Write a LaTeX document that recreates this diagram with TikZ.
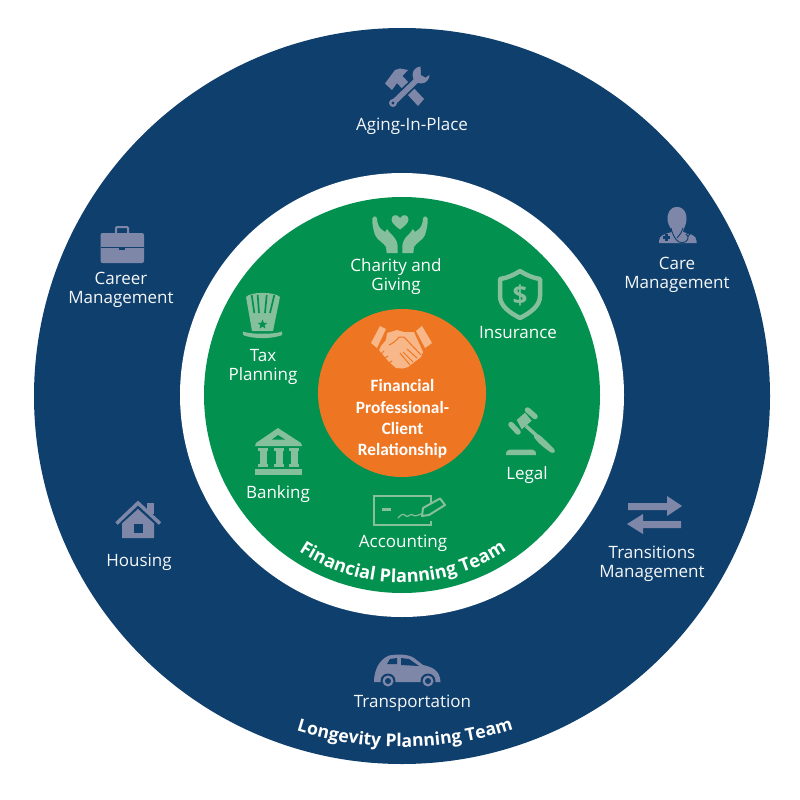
\documentclass[tikz,border=0pt]{standalone}
\usepackage{fontspec}
\setmainfont{Open Sans}
\newfontfamily\carlito{Carlito}
\usetikzlibrary{shapes.geometric,decorations.text}
\definecolor{navy}{HTML}{0F3F6C}
\definecolor{grn}{HTML}{03914F}
\definecolor{org}{HTML}{EE7623}
\definecolor{icnavy}{HTML}{7F87A8}
\definecolor{icgreen}{HTML}{85BF9B}
\definecolor{icorg}{HTML}{F8B788}
\tikzset{
  lbl/.style={text=white!96!navy,align=center,inner sep=0pt,font=\fontsize{17}{19.3}\selectfont},
  lblg/.style={text=white,align=center,inner sep=0pt,font=\fontsize{17}{19.3}\selectfont},
  nv/.style={fill=icnavy,draw=none},
  gr/.style={fill=icgreen,draw=none},
  orr/.style={fill=icorg,draw=none}
}
\begin{document}
\begin{tikzpicture}[x=1pt,y=-1pt]
\useasboundingbox (0,0) rectangle (800,800);
\fill[white] (0,0) rectangle (800,800);
\node[circle,fill=navy,minimum size=736pt,inner sep=0pt] (outer) at (402,396) {};
\node[circle,fill=white,minimum size=444pt,inner sep=0pt] (gap) at (402,395) {};
\node[circle,fill=grn,minimum size=396pt,inner sep=0pt] (green) at (402,395) {};
\node[circle,fill=org,minimum size=168pt,inner sep=0pt] (core) at (402,393) {};
% curved team names
\begin{scope}[x=1pt,y=1pt,shift={(402pt,-395pt)}]
\path[decorate,decoration={text along path,text align={center},
  text={|\fontsize{18.1}{20}\selectfont\bfseries\color{white}|Financial Planning Team}}]
  (200.3:187.5) arc[start angle=200.3,end angle=340.3,radius=187.5];
\path[decorate,decoration={text along path,text align={center},
  text={|\fontsize{17.6}{20}\selectfont\bfseries\color{white}|Longevity Planning Team}}]
  (230.5:352) arc[start angle=230.5,end angle=310.5,radius=352];
\end{scope}
% labels
\node[lbl] (aging) at (412,125.8) {Aging-In-Place};
\node[lbl] (care) at (677,274.8) {Care\\Management};
\node[lbl] (career) at (121,289.8) {Career\\Management};
\node[lbl] (housing) at (139,561.8) {Housing};
\node[lbl] (trans) at (652,563.8) {Transitions\\Management};
\node[lbl] (transp) at (412.5,702.8) {Transportation};
\node[lblg] (charity) at (396,276.8) {Charity and\\Giving};
\node[lblg] (insur) at (518,332.8) {Insurance};
\node[lblg] (tax) at (263,366.8) {Tax\\Planning};
\node[lblg] (legal) at (527,474.8) {Legal};
\node[lblg] (bank) at (278,494.3) {Banking};
\node[lblg] (acct) at (403,542.8) {Accounting};
\node[text=white,align=center,inner sep=0pt,font=\carlito\bfseries\fontsize{17.3}{21.3}\selectfont] (fin) at (402.5,419) {Financial\\Professional-\\Client\\Relationship};
% tools
\fill[nv] (385,83.5) -- (395,70) -- (400,68.5) -- (408,70) -- (402.5,76) -- (424,99) -- (418,106) -- (397,83) -- (392,90) -- cycle;
\draw[navy,line width=9pt] (394,102) -- (419,78);
\fill[navy] (391,105) circle[radius=5];
\draw[icnavy,line width=5.5pt] (393.5,102.5) -- (419,78);
\fill[icnavy] (393,103) circle[radius=4];
\fill[navy] (393,103) circle[radius=1.6];
\fill[icnavy] (421,75) circle[radius=8.5];
\fill[navy] (421,75) -- (420.5,65) -- (428,65) -- (432,73) -- (425.5,77.5) -- cycle;
% doctor
\fill[nv] (677,207) .. controls (684,207) and (687,213) .. (686.5,220) .. controls (686,226) and (683,229) .. (683,232)
  .. controls (690,234) and (696.5,235) .. (696.5,241) -- (696.5,243) -- (659,243) -- (659,241)
  .. controls (659,235) and (665,234) .. (672,232) .. controls (672,229) and (668,226) .. (667.5,220) .. controls (667,213) and (670,207) .. (677,207) -- cycle;
\draw[navy,line width=.9pt] (671,228) .. controls (672,233) and (675,240) .. (679,242) .. controls (684,244) and (689,241) .. (688,236);
\draw[navy,line width=.9pt] (683,228) -- (681,233) -- (677,238);
\fill[navy] (664.5,234) rectangle (667.5,241);
\fill[navy] (662.5,236) rectangle (669.5,239);
\draw[navy,line width=.8pt,fill=icnavy] (688,234.5) circle[radius=1.7];
% briefcase
\fill[nv,rounded corners=2pt] (100.5,233) rectangle (144,263);
\draw[icnavy,line width=2pt,rounded corners=1pt] (116,233) -- (116,227) -- (128,227) -- (128,233);
\fill[navy] (100.5,247) rectangle (144,248);
\fill[navy] (119,247) rectangle (125,250);
% heart hands
\fill[gr] (400,229.5) .. controls (395,226) and (391.5,222.5) .. (391.5,219.5) .. controls (391.5,214.5) and (397.5,213.5) .. (400,218) .. controls (402.5,213.5) and (408.5,214.5) .. (408.5,219.5) .. controls (408.5,222.5) and (405,226) .. (400,229.5) -- cycle;
\foreach \m in {-1,1}{
\begin{scope}[shift={({400-\m*400},0)},xscale=\m]
\fill[gr] (372.3,218.3) .. controls (374,215.5) and (376.5,216) .. (376.8,218) .. controls (377.5,223) and (378,226) .. (381,229)
  -- (385,232) -- (387,229) -- (390,233) -- (393,236) .. controls (396,239) and (397.7,243) .. (397.7,247) -- (397.7,253) -- (386.7,253) -- (386,247)
  .. controls (384,243) and (377,240) .. (375,235) .. controls (373,229) and (372,223) .. (372.3,218.3) -- cycle;
\end{scope}}
% shield
\draw[icgreen,line width=4.5pt,fill=none,line join=round] (520,271) .. controls (526,275) and (533,278) .. (540,279) -- (540,296) .. controls (540,306) and (530,313) .. (520,318) .. controls (510,313) and (500,306) .. (500,296) -- (500,279) .. controls (507,278) and (514,275) .. (520,271) -- cycle;
\node[text=icgreen,inner sep=0pt,font=\bfseries\fontsize{26}{28}\selectfont] (dollar) at (520,295) {\$};
% hat
\fill[gr] (246,297) .. controls (250,291.5) and (275,291.5) .. (280,297) -- (273,331) -- (252,331) -- cycle;
\foreach \a/\b in {251.7/254.3,257.7/259,266.7/265,274.3/270}{\draw[grn,line width=1.7pt] (\a,295) -- (\b,313);}
\node[star,star points=5,star point ratio=2.3,fill=grn,minimum size=10pt,inner sep=0pt] (hatstar) at (262.5,324.5) {};
\fill[gr] (243,331.5) .. controls (250,334.5) and (275,334.5) .. (282,331.5) .. controls (283,334) and (282,335) .. (281,335.5) .. controls (270,339) and (255,339) .. (244,335.5) .. controls (243,335) and (242,333) .. (243,331.5) -- cycle;
% handshake
\fill[orr] (371,343) -- (380,326) -- (386,329) -- (377,348) -- cycle;
\fill[orr] (416,331) -- (422,326) -- (432,343) -- (425,348) -- cycle;
\fill[orr] (387,333) -- (397,330) -- (404,332) -- (414,332) -- (423,352) -- (421,357) -- (408,367) -- (403,368.5) -- (396,368) -- (389,362) -- (379,350) -- (381,346) -- (386,340) -- cycle;
\draw[org,line width=1pt] (389,345) .. controls (392,344) and (397,340) .. (399,337) -- (404,337) -- (421,355);
\draw[org,line width=1pt] (400,353) -- (410,365);
\draw[org,line width=1pt] (403,352) -- (413,362);
\draw[org,line width=1pt] (407,349) -- (417,358);
\draw[org,line width=1pt] (384,351) -- (381,354);
\draw[org,line width=1pt] (388,356) -- (385,358);
\draw[org,line width=1pt] (392,361) -- (389,363);
% gavel
\draw[icgreen,line width=3.5pt] (526,426) -- (537,436);
\fill[gr] (534,434) .. controls (538,433) and (541,436) .. (545,440) -- (554,449) .. controls (556,452) and (554,453.5) .. (551,452.5) .. controls (544,448) and (537,442) .. (534,437) -- cycle;
\fill[gr] (516.7,420) -- (525,412.7) -- (531.7,420.7) -- (521.7,429.3) -- cycle;
\draw[icgreen,line width=5.5pt,line cap=round] (527.5,410) -- (535,416.5);
\draw[icgreen,line width=5.5pt,line cap=round] (511,424.5) -- (518,432);
\fill[gr] (506,455) .. controls (506,451.5) and (507,449.5) .. (510,449.5) -- (532,449.5) .. controls (535,449.5) and (536,451.5) .. (536,455) -- cycle;
% bank
\fill[gr] (255,446) -- (256,443) -- (278,428) -- (301,443) -- (302,446) -- cycle;
\fill[grn] (272,439.5) -- (278,435) -- (285,439.5) -- cycle;
\foreach \c in {263,279,294}{
  \fill[gr] ({\c-5},448) rectangle ({\c+5},451);
  \fill[gr] ({\c-3.5},451) rectangle ({\c+3.5},464);
  \fill[gr] ({\c-5},464) rectangle ({\c+5},467);
}
\fill[gr] (255,468.5) rectangle (302,475);
% house
\draw[icnavy,line width=3.5pt,fill=none] (116.5,523.5) -- (138,503) -- (160,523.5);
\fill[nv] (147,503) rectangle (154,514);
\fill[nv] (122,538) -- (122,523.5) -- (138,509) -- (154,523.5) -- (154,538) -- cycle;
\fill[navy] (133.5,523.5) rectangle (143,533);
% cheque
\draw[icgreen,line width=2pt,fill=none] (431,503) -- (431,496) -- (374,496) -- (374,525) -- (431,525) -- (431,521);
\fill[gr] (382,507.5) rectangle (391,511);
\draw[icgreen,line width=1.2pt,line cap=round] (398,518) .. controls (402,513) and (404,514) .. (406,516) .. controls (408,518) and (410,513) .. (413,515) .. controls (415,517) and (418,515) .. (421,514);
\draw[icgreen,line width=2pt,fill=grn,line join=round] (422,516) -- (423,508) -- (440,498.5) -- (445,505) -- (429,515) -- cycle;
% arrows
\fill[nv] (628,503) -- (667,503) -- (667,496) -- (682,506) -- (667,516) -- (667,510) -- (628,510) -- cycle;
\fill[nv] (681,521) -- (643,521) -- (643,514) -- (627,524) -- (643,534) -- (643,528) -- (681,528) -- cycle;
% car
\fill[nv] (374,682) .. controls (374,672) and (378,660) .. (389,655.5) .. controls (398,654) and (408,654) .. (414,658) -- (423,665) .. controls (432,667) and (440,670) .. (440.5,682) -- cycle;
\fill[navy] (390,659) -- (397,658) -- (397,664) -- (387,664) -- cycle;
\fill[navy] (401,658) -- (409,659) -- (419,666) -- (401,665) -- cycle;
\foreach \w in {388,428}{
 \fill[navy] (\w,681) circle[radius=7.5];
 \fill[icnavy] (\w,681) circle[radius=5.5];
 \fill[navy] (\w,681) circle[radius=3];
}
\end{tikzpicture}
\end{document}
